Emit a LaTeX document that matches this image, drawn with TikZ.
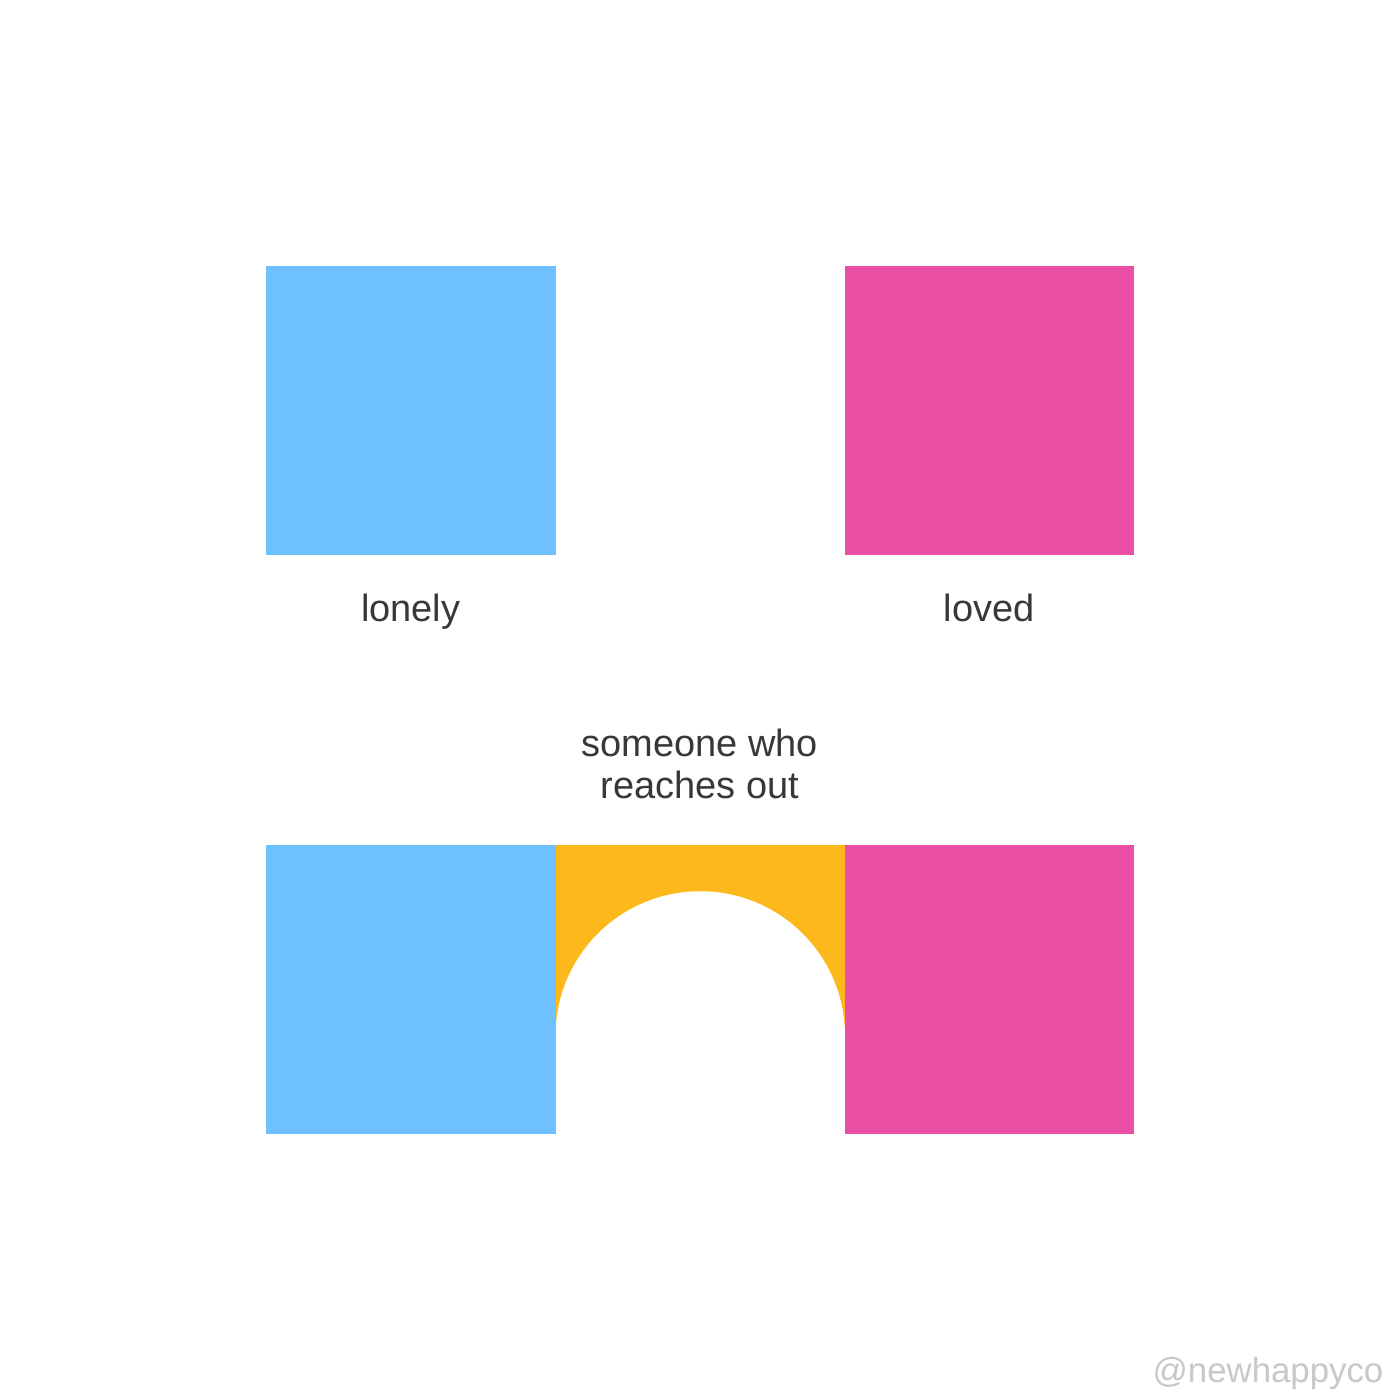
\documentclass[tikz,border=0pt]{standalone}
\usepackage{fontspec}
\setmainfont{Liberation Sans}
\usetikzlibrary{calc,positioning}
\definecolor{lonelyblue}{HTML}{6CC1FE}
\definecolor{lovedpink}{HTML}{EB4FA5}
\definecolor{reachyellow}{HTML}{FDB91C}
\definecolor{textgray}{HTML}{383838}
\definecolor{markgray}{HTML}{C8C8C8}

\tikzset{
	box/.style={minimum size=2.895cm, inner sep=0pt, outer sep=0pt},
	lbl/.style={text=textgray, font=\fontsize{10.8}{12}\selectfont, inner sep=0pt, anchor=base}
}

\begin{document}
\begin{tikzpicture}

	% Page.
	\fill[white] (0,0) rectangle (14,14);
	\useasboundingbox (0,0) rectangle (14,14);

	% Draw the bridge and cut the arch out of it.
	\fill[reachyellow] (5.55,2.655) rectangle (8.46,5.55);
	\fill[white] (5.555,2.65) -- (5.555,3.64) arc (180:0:1.4475) -- (8.45,2.65) -- cycle;

	% Draw squares.
	\node[box, fill=lonelyblue] (lonelybox) at (4.1075,9.8925) {};
	\node[box, fill=lovedpink] (lovedbox) at (9.8925,9.8925) {};
	\node[box, fill=lonelyblue] (lonelybot) at (4.1075,4.1025) {};
	\node[box, fill=lovedpink] (lovedbot) at (9.8925,4.1025) {};

	% Labels.
	\node[lbl] (lonelytxt) at ([yshift=-0.66cm]lonelybox.south) {lonely};
	\node[lbl] (lovedtxt) at ([yshift=-0.66cm]lovedbox.south) {loved};
	\node[lbl] (reachtxt) at (7,6.43) {someone who};
	\node[lbl] (reachtxt2) at (7,6.01) {reaches out};

	% Watermark.
	\node[text=markgray, font=\fontsize{9.9}{11}\selectfont, inner sep=0pt, anchor=base] (mark) at (12.68,0.18) {@newhappyco};

\end{tikzpicture}
\end{document}
